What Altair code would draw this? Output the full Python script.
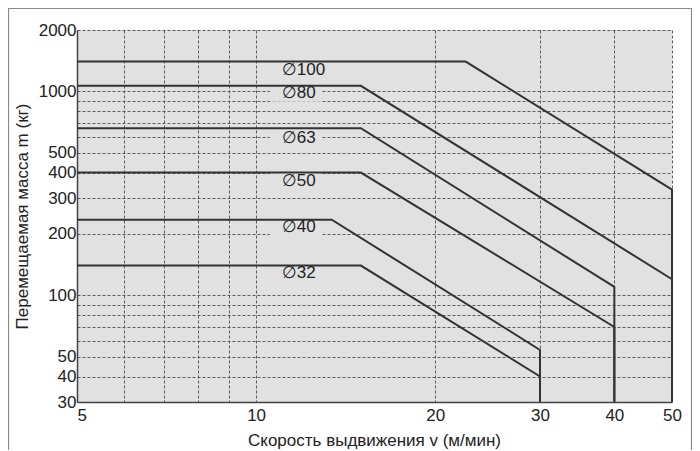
import altair as alt
import pandas as pd

# ---- data ----
diameters = ["∅100", "∅80", "∅63", "∅50", "∅40", "∅32"]
v_start = [5, 5, 5, 5, 5, 5]
m_flat = [1400, 1065, 660, 400, 235, 140]
v_knee = [22.5, 15, 15, 15, 13.4, 15]
v_end = [50, 50, 40, 40, 30, 30]
m_end = [330, 120, 110, 70, 54, 40]
m_floor = 30

label_v = [11.05, 11.05, 11.05, 11.05, 11.05, 11.05]
label_m = [1273, 982, 592, 364, 216, 129]

x_grid = [5, 6, 7, 8, 9, 10, 20, 30, 40, 50]
x_labels = [5, 10, 20, 30, 40, 50]
y_grid = [30, 40, 50, 60, 70, 80, 90, 100, 200, 300, 400, 500, 600, 700, 800, 900, 1000, 2000]
y_labels = [30, 40, 50, 100, 200, 300, 400, 500, 1000, 2000]

# ---- tables ----
rows = []
for i, d in enumerate(diameters):
    pts = [(v_start[i], m_flat[i]), (v_knee[i], m_flat[i]),
           (v_end[i], m_end[i]), (v_end[i], m_floor)]
    for k, (v, m) in enumerate(pts):
        rows.append({"d": d, "v": v, "m": m, "o": k})
lines_df = pd.DataFrame(rows)

lab_df = pd.DataFrame({"d": diameters, "v": label_v, "m": label_m})
lab_df["v1"] = lab_df["v"] * 0.955
lab_df["v2"] = lab_df["v"] * 1.165
lab_df["m1"] = lab_df["m"] / 1.105
lab_df["m2"] = lab_df["m"] * 1.105

FONT = "Liberation Sans, Arial, DejaVu Sans"
BG = "#e1e1e1"
INK = "#333333"

xscale = alt.Scale(type="log", domain=[5, 50], nice=False, zero=False)
yscale = alt.Scale(type="log", domain=[30, 2000], nice=False, zero=False)

x_lab_list = ",".join(str(v) for v in x_labels)
y_lab_list = ",".join(str(v) for v in y_labels)

xaxis = alt.Axis(
    values=x_grid, grid=True, ticks=False,
    labelExpr=f"indexof([{x_lab_list}], datum.value) >= 0 ? '' + datum.value : ''",
    labelAlign=alt.expr("datum.value == 5 ? 'left' : 'center'"),
    labelPadding=5, labelFontSize=17, labelFont=FONT, labelColor="#222",
    title="Скорость выдвижения v (м/мин)", titleFontSize=17, titleFont=FONT,
    titleFontWeight="normal", titleColor="#222",
    titleX=297, titleY=38, titleBaseline="middle", titleAnchor="middle",
    gridColor="#5a5a5a", gridDash=[3, 2], gridWidth=1, gridOpacity=1,
    domainColor="#444", domainWidth=1.5,
)
yaxis = alt.Axis(
    values=y_grid, grid=True, ticks=False,
    labelExpr=f"indexof([{y_lab_list}], datum.value) >= 0 ? '' + datum.value : ''",
    labelPadding=1, labelFontSize=17, labelFont=FONT, labelColor="#222",
    title="Перемещаемая масса m (кг)", titleFontSize=17, titleFont=FONT,
    titleFontWeight="normal", titleColor="#222",
    titleX=-55, titleY=186, titleAngle=-90, titleBaseline="middle", titleAlign="center",
    gridColor="#5a5a5a", gridDash=[3, 2], gridWidth=1, gridOpacity=1,
    domainColor="#444", domainWidth=1.5,
)

one = pd.DataFrame({"a": [0]})
frame_left = alt.Chart(one).mark_rule(color="#8a8a8a", strokeWidth=1.2).encode(
    x=alt.value(-68.5), y=alt.value(-22), y2=alt.value(500)
)
frame_right = alt.Chart(one).mark_rule(color="#8a8a8a", strokeWidth=1.2).encode(
    x=alt.value(614.5), y=alt.value(-22), y2=alt.value(500)
)
frame_top = alt.Chart(one).mark_rule(color="#8a8a8a", strokeWidth=1.2).encode(
    x=alt.value(-68.5), x2=alt.value(614.5), y=alt.value(-21.5)
)

boxes = alt.Chart(lab_df).mark_rect(color=BG).encode(
    x=alt.X("v1:Q", scale=xscale, axis=xaxis),
    x2="v2:Q",
    y=alt.Y("m1:Q", scale=yscale, axis=yaxis),
    y2="m2:Q",
)

lines = alt.Chart(lines_df).mark_line(color=INK, strokeWidth=2).encode(
    x=alt.X("v:Q", scale=xscale),
    y=alt.Y("m:Q", scale=yscale),
    detail="d:N",
    order="o:Q",
)

texts = alt.Chart(lab_df).mark_text(
    align="left", baseline="middle", fontSize=17, font=FONT, color="#222"
).encode(
    x=alt.X("v:Q", scale=xscale),
    y=alt.Y("m:Q", scale=yscale),
    text="d:N",
)

chart = alt.layer(boxes, lines, texts, frame_left, frame_right, frame_top).properties(
    width=595, height=372,
    autosize=alt.AutoSizeParams(type="none"),
    padding={"left": 69, "top": 22, "right": 20, "bottom": 48},
    background="white",
).configure_view(
    fill=BG, stroke=None
)

chart.save("out.html", embed_options={"renderer": "svg", "actions": False})
